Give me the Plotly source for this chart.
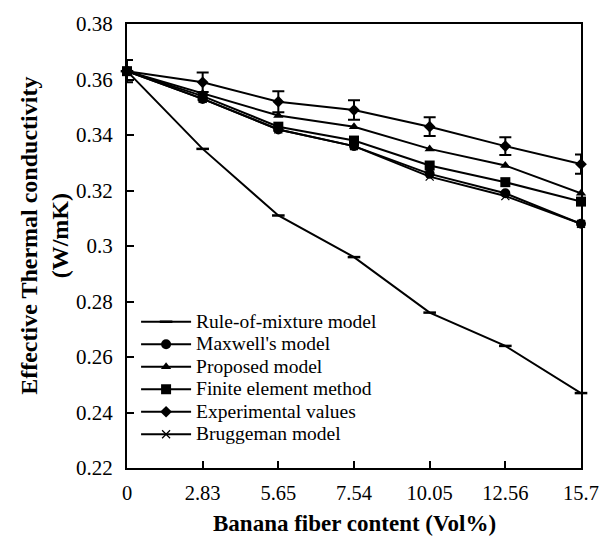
import plotly.graph_objects as go

x_labels = ["0", "2.83", "5.65", "7.54", "10.05", "12.56", "15.7"]
rule_mix = [0.363, 0.335, 0.311, 0.296, 0.276, 0.264, 0.247]
maxwell = [0.363, 0.353, 0.342, 0.336, 0.326, 0.319, 0.308]
proposed = [0.363, 0.355, 0.347, 0.343, 0.335, 0.329, 0.319]
fem = [0.363, 0.354, 0.343, 0.338, 0.329, 0.323, 0.316]
experimental = [0.363, 0.359, 0.352, 0.349, 0.343, 0.336, 0.3295]
exp_err = [0.004, 0.0035, 0.0038, 0.0035, 0.0034, 0.0032, 0.0035]
bruggeman = [0.363, 0.353, 0.342, 0.336, 0.325, 0.318, 0.308]
y_ticks = [0.22, 0.24, 0.26, 0.28, 0.30, 0.32, 0.34, 0.36, 0.38]
y_tick_text = ["0.22", "0.24", "0.26", "0.28", "0.3", "0.32", "0.34", "0.36", "0.38"]

FONT = "Liberation Serif"
BLACK = "#000000"

fig = go.Figure()

def add(name, y, symbol, size, err=None, mline=0):
    kw = {}
    if err is not None:
        kw["error_y"] = dict(type="data", array=err, visible=True, color=BLACK,
                             thickness=2, width=6)
    fig.add_trace(go.Scatter(
        x=x_labels, y=y,
        name='<span style="font-size:19.5px">' + name + '</span>',
        mode="lines+markers",
        line=dict(color=BLACK, width=2),
        marker=dict(symbol=symbol, size=size, color=BLACK,
                    line=dict(color=BLACK, width=mline)),
        cliponaxis=False, **kw))

add("Rule-of-mixture model", rule_mix, "line-ew", 9, mline=2.5)
add("Maxwell's model", maxwell, "circle", 10)
add("Proposed model", proposed, "triangle-up", 9)
add("Finite element method", fem, "square", 10)
add("Experimental values", experimental, "diamond", 9, err=exp_err)
add("Bruggeman model", bruggeman, "x-thin", 8, mline=1.2)

fig.update_layout(
    width=611, height=541,
    margin=dict(l=127, r=29, t=19, b=73),
    paper_bgcolor="white", plot_bgcolor="white",
    font=dict(family=FONT, color=BLACK, size=19),
    showlegend=True,
    legend=dict(x=0.02, y=0.366, xanchor="left", yanchor="top",
                bgcolor="rgba(0,0,0,0)", font=dict(size=15, family=FONT),
                tracegroupgap=0, itemsizing="trace", itemwidth=50),
    xaxis=dict(type="category", range=[0, 6], showline=True, linecolor=BLACK,
               linewidth=2, mirror=True, ticks="inside", ticklen=7,
               tickwidth=1.5, tickcolor=BLACK, showgrid=False, zeroline=False,
               ticklabelstandoff=5,
               tickfont=dict(size=20.5, family=FONT)),
    yaxis=dict(range=[0.22, 0.38], tickvals=y_ticks, ticktext=y_tick_text,
               showline=True, linecolor=BLACK, linewidth=2, mirror=True,
               ticks="inside", ticklen=7, tickwidth=1.5, tickcolor=BLACK,
               showgrid=False, zeroline=False, ticklabelstandoff=8,
               tickfont=dict(size=21, family=FONT)),
    annotations=[
        dict(text="<b>Banana fiber content (Vol%)</b>", xref="paper", yref="paper",
             x=0.5, y=0, yshift=-55, xanchor="center", yanchor="middle",
             showarrow=False, font=dict(size=23, family=FONT)),
        dict(text="<b>Effective Thermal conductivity<br>(W/mK)</b>", xref="paper",
             yref="paper", x=0, xshift=-82, y=0.523, xanchor="center",
             yanchor="middle", textangle=-90, showarrow=False,
             font=dict(size=24, family=FONT)),
    ],
)

fig.write_html("out.html")
